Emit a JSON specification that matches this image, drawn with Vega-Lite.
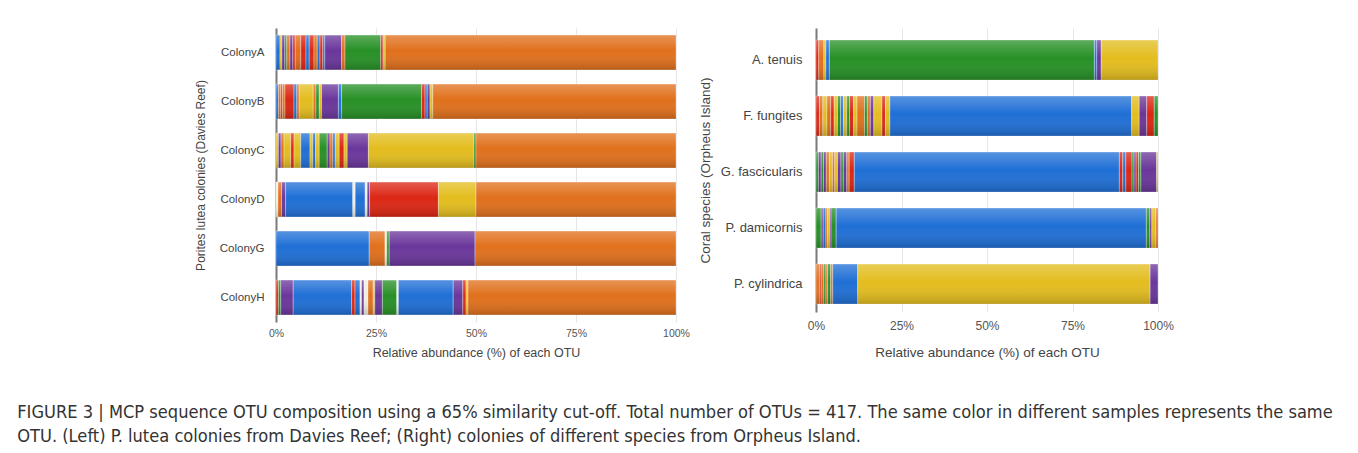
{
  "$schema": "https://vega.github.io/schema/vega-lite/v6.json",
  "background": "white",
  "padding": {"left": 17, "top": 28, "right": 0, "bottom": 0},
  "title": {
    "text": ["FIGURE 3 | MCP sequence OTU composition using a 65% similarity cut-off. Total number of OTUs = 417. The same color in different samples represents the same", "OTU. (Left) P. lutea colonies from Davies Reef; (Right) colonies of different species from Orpheus Island."],
    "orient": "bottom", "anchor": "start", "frame": "bounds", "dx": -177, "offset": 45,
    "font": "DejaVu Sans Condensed, sans-serif", "fontSize": 18.1, "fontWeight": "normal", "color": "#333", "lineHeight": 24
  },
  "datasets": {
    "left": [
      {"sample":"ColonyA","otu":"B","pct":1.0,"seq":1},{"sample":"ColonyA","otu":"E","pct":0.5,"seq":2},{"sample":"ColonyA","otu":"F","pct":0.7,"seq":3},{"sample":"ColonyA","otu":"C","pct":0.5,"seq":4},{"sample":"ColonyA","otu":"A","pct":0.8,"seq":5},{"sample":"ColonyA","otu":"F","pct":0.7,"seq":6},{"sample":"ColonyA","otu":"D","pct":0.6,"seq":7},{"sample":"ColonyA","otu":"A","pct":1.4,"seq":8},{"sample":"ColonyA","otu":"D","pct":1.3,"seq":9},{"sample":"ColonyA","otu":"B","pct":0.8,"seq":10},{"sample":"ColonyA","otu":"D","pct":1.2,"seq":11},{"sample":"ColonyA","otu":"A","pct":0.8,"seq":12},{"sample":"ColonyA","otu":"B","pct":0.7,"seq":13},{"sample":"ColonyA","otu":"D","pct":0.7,"seq":14},{"sample":"ColonyA","otu":"B","pct":0.5,"seq":15},{"sample":"ColonyA","otu":"F","pct":4.2,"seq":16},{"sample":"ColonyA","otu":"A","pct":0.85,"seq":17},{"sample":"ColonyA","otu":"C","pct":8.95,"seq":18},{"sample":"ColonyA","otu":"D","pct":0.55,"seq":19},{"sample":"ColonyA","otu":"E","pct":0.55,"seq":20},{"sample":"ColonyA","otu":"A","pct":72.7,"seq":21},
      {"sample":"ColonyB","otu":"B","pct":0.6,"seq":1},{"sample":"ColonyB","otu":"A","pct":0.6,"seq":2},{"sample":"ColonyB","otu":"D","pct":0.4,"seq":3},{"sample":"ColonyB","otu":"A","pct":0.65,"seq":4},{"sample":"ColonyB","otu":"D","pct":2.25,"seq":5},{"sample":"ColonyB","otu":"B","pct":0.7,"seq":6},{"sample":"ColonyB","otu":"A","pct":0.6,"seq":7},{"sample":"ColonyB","otu":"E","pct":3.5,"seq":8},{"sample":"ColonyB","otu":"A","pct":0.7,"seq":9},{"sample":"ColonyB","otu":"C","pct":0.8,"seq":10},{"sample":"ColonyB","otu":"E","pct":0.6,"seq":11},{"sample":"ColonyB","otu":"F","pct":4.2,"seq":12},{"sample":"ColonyB","otu":"B","pct":0.8,"seq":13},{"sample":"ColonyB","otu":"C","pct":20.0,"seq":14},{"sample":"ColonyB","otu":"D","pct":0.85,"seq":15},{"sample":"ColonyB","otu":"B","pct":0.55,"seq":16},{"sample":"ColonyB","otu":"F","pct":0.7,"seq":17},{"sample":"ColonyB","otu":"E","pct":0.7,"seq":18},{"sample":"ColonyB","otu":"A","pct":60.8,"seq":19},
      {"sample":"ColonyC","otu":"E","pct":0.6,"seq":1},{"sample":"ColonyC","otu":"F","pct":0.65,"seq":2},{"sample":"ColonyC","otu":"A","pct":0.75,"seq":3},{"sample":"ColonyC","otu":"E","pct":1.7,"seq":4},{"sample":"ColonyC","otu":"D","pct":0.8,"seq":5},{"sample":"ColonyC","otu":"E","pct":1.7,"seq":6},{"sample":"ColonyC","otu":"B","pct":2.3,"seq":7},{"sample":"ColonyC","otu":"E","pct":0.7,"seq":8},{"sample":"ColonyC","otu":"B","pct":0.7,"seq":9},{"sample":"ColonyC","otu":"E","pct":0.9,"seq":10},{"sample":"ColonyC","otu":"C","pct":2.0,"seq":11},{"sample":"ColonyC","otu":"F","pct":0.7,"seq":12},{"sample":"ColonyC","otu":"A","pct":0.7,"seq":13},{"sample":"ColonyC","otu":"B","pct":0.6,"seq":14},{"sample":"ColonyC","otu":"E","pct":1.0,"seq":15},{"sample":"ColonyC","otu":"D","pct":1.2,"seq":16},{"sample":"ColonyC","otu":"E","pct":0.8,"seq":17},{"sample":"ColonyC","otu":"F","pct":5.3,"seq":18},{"sample":"ColonyC","otu":"E","pct":26.4,"seq":19},{"sample":"ColonyC","otu":"C","pct":0.5,"seq":20},{"sample":"ColonyC","otu":"A","pct":50.0,"seq":21},
      {"sample":"ColonyD","otu":"G","pct":0.5,"seq":1},{"sample":"ColonyD","otu":"A","pct":0.9,"seq":2},{"sample":"ColonyD","otu":"F","pct":1.0,"seq":3},{"sample":"ColonyD","otu":"B","pct":16.8,"seq":4},{"sample":"ColonyD","otu":"G","pct":0.6,"seq":5},{"sample":"ColonyD","otu":"B","pct":2.5,"seq":6},{"sample":"ColonyD","otu":"G","pct":0.5,"seq":7},{"sample":"ColonyD","otu":"F","pct":0.6,"seq":8},{"sample":"ColonyD","otu":"D","pct":17.2,"seq":9},{"sample":"ColonyD","otu":"E","pct":9.4,"seq":10},{"sample":"ColonyD","otu":"A","pct":50.0,"seq":11},
      {"sample":"ColonyG","otu":"B","pct":23.3,"seq":1},{"sample":"ColonyG","otu":"A","pct":3.95,"seq":2},{"sample":"ColonyG","otu":"G","pct":0.45,"seq":3},{"sample":"ColonyG","otu":"C","pct":0.6,"seq":4},{"sample":"ColonyG","otu":"F","pct":21.45,"seq":5},{"sample":"ColonyG","otu":"A","pct":50.25,"seq":6},
      {"sample":"ColonyH","otu":"D","pct":0.6,"seq":1},{"sample":"ColonyH","otu":"C","pct":0.6,"seq":2},{"sample":"ColonyH","otu":"F","pct":3.1,"seq":3},{"sample":"ColonyH","otu":"B","pct":14.6,"seq":4},{"sample":"ColonyH","otu":"D","pct":0.85,"seq":5},{"sample":"ColonyH","otu":"B","pct":1.25,"seq":6},{"sample":"ColonyH","otu":"G","pct":0.4,"seq":7},{"sample":"ColonyH","otu":"F","pct":0.6,"seq":8},{"sample":"ColonyH","otu":"G","pct":1.0,"seq":9},{"sample":"ColonyH","otu":"A","pct":1.3,"seq":10},{"sample":"ColonyH","otu":"E","pct":0.4,"seq":11},{"sample":"ColonyH","otu":"F","pct":1.9,"seq":12},{"sample":"ColonyH","otu":"C","pct":3.6,"seq":13},{"sample":"ColonyH","otu":"G","pct":0.4,"seq":14},{"sample":"ColonyH","otu":"B","pct":13.7,"seq":15},{"sample":"ColonyH","otu":"F","pct":2.4,"seq":16},{"sample":"ColonyH","otu":"D","pct":0.8,"seq":17},{"sample":"ColonyH","otu":"E","pct":0.5,"seq":18},{"sample":"ColonyH","otu":"A","pct":52.0,"seq":19}
    ],
    "right": [
      {"sample":"A. tenuis","otu":"D","pct":0.8,"seq":1},{"sample":"A. tenuis","otu":"A","pct":1.5,"seq":2},{"sample":"A. tenuis","otu":"E","pct":0.6,"seq":3},{"sample":"A. tenuis","otu":"B","pct":1.0,"seq":4},{"sample":"A. tenuis","otu":"C","pct":77.5,"seq":5},{"sample":"A. tenuis","otu":"B","pct":0.7,"seq":6},{"sample":"A. tenuis","otu":"F","pct":1.3,"seq":7},{"sample":"A. tenuis","otu":"E","pct":16.6,"seq":8},
      {"sample":"F. fungites","otu":"D","pct":1.0,"seq":1},{"sample":"F. fungites","otu":"A","pct":1.0,"seq":2},{"sample":"F. fungites","otu":"E","pct":1.2,"seq":3},{"sample":"F. fungites","otu":"A","pct":1.1,"seq":4},{"sample":"F. fungites","otu":"D","pct":1.0,"seq":5},{"sample":"F. fungites","otu":"E","pct":1.0,"seq":6},{"sample":"F. fungites","otu":"C","pct":0.9,"seq":7},{"sample":"F. fungites","otu":"B","pct":0.8,"seq":8},{"sample":"F. fungites","otu":"E","pct":1.0,"seq":9},{"sample":"F. fungites","otu":"C","pct":0.8,"seq":10},{"sample":"F. fungites","otu":"D","pct":1.2,"seq":11},{"sample":"F. fungites","otu":"E","pct":1.0,"seq":12},{"sample":"F. fungites","otu":"A","pct":2.2,"seq":13},{"sample":"F. fungites","otu":"C","pct":0.8,"seq":14},{"sample":"F. fungites","otu":"A","pct":0.9,"seq":15},{"sample":"F. fungites","otu":"F","pct":1.0,"seq":16},{"sample":"F. fungites","otu":"E","pct":2.4,"seq":17},{"sample":"F. fungites","otu":"D","pct":1.0,"seq":18},{"sample":"F. fungites","otu":"E","pct":1.3,"seq":19},{"sample":"F. fungites","otu":"B","pct":70.7,"seq":20},{"sample":"F. fungites","otu":"E","pct":2.2,"seq":21},{"sample":"F. fungites","otu":"F","pct":2.2,"seq":22},{"sample":"F. fungites","otu":"D","pct":2.2,"seq":23},{"sample":"F. fungites","otu":"C","pct":1.1,"seq":24},
      {"sample":"G. fascicularis","otu":"C","pct":0.7,"seq":1},{"sample":"G. fascicularis","otu":"F","pct":0.8,"seq":2},{"sample":"G. fascicularis","otu":"C","pct":0.7,"seq":3},{"sample":"G. fascicularis","otu":"F","pct":0.8,"seq":4},{"sample":"G. fascicularis","otu":"A","pct":0.9,"seq":5},{"sample":"G. fascicularis","otu":"E","pct":0.9,"seq":6},{"sample":"G. fascicularis","otu":"A","pct":0.7,"seq":7},{"sample":"G. fascicularis","otu":"E","pct":0.8,"seq":8},{"sample":"G. fascicularis","otu":"F","pct":1.0,"seq":9},{"sample":"G. fascicularis","otu":"C","pct":0.7,"seq":10},{"sample":"G. fascicularis","otu":"F","pct":1.0,"seq":11},{"sample":"G. fascicularis","otu":"A","pct":0.7,"seq":12},{"sample":"G. fascicularis","otu":"D","pct":1.5,"seq":13},{"sample":"G. fascicularis","otu":"B","pct":77.5,"seq":14},{"sample":"G. fascicularis","otu":"D","pct":1.0,"seq":15},{"sample":"G. fascicularis","otu":"B","pct":0.9,"seq":16},{"sample":"G. fascicularis","otu":"D","pct":1.8,"seq":17},{"sample":"G. fascicularis","otu":"C","pct":0.6,"seq":18},{"sample":"G. fascicularis","otu":"F","pct":0.6,"seq":19},{"sample":"G. fascicularis","otu":"D","pct":0.7,"seq":20},{"sample":"G. fascicularis","otu":"C","pct":0.7,"seq":21},{"sample":"G. fascicularis","otu":"F","pct":4.6,"seq":22},{"sample":"G. fascicularis","otu":"E","pct":0.4,"seq":23},
      {"sample":"P. damicornis","otu":"C","pct":1.5,"seq":1},{"sample":"P. damicornis","otu":"F","pct":0.6,"seq":2},{"sample":"P. damicornis","otu":"B","pct":0.8,"seq":3},{"sample":"P. damicornis","otu":"A","pct":0.5,"seq":4},{"sample":"P. damicornis","otu":"E","pct":0.6,"seq":5},{"sample":"P. damicornis","otu":"F","pct":0.4,"seq":6},{"sample":"P. damicornis","otu":"C","pct":1.5,"seq":7},{"sample":"P. damicornis","otu":"B","pct":90.7,"seq":8},{"sample":"P. damicornis","otu":"C","pct":1.0,"seq":9},{"sample":"P. damicornis","otu":"F","pct":0.6,"seq":10},{"sample":"P. damicornis","otu":"E","pct":1.2,"seq":11},{"sample":"P. damicornis","otu":"A","pct":0.6,"seq":12},
      {"sample":"P. cylindrica","otu":"A","pct":1.0,"seq":1},{"sample":"P. cylindrica","otu":"D","pct":0.5,"seq":2},{"sample":"P. cylindrica","otu":"A","pct":0.8,"seq":3},{"sample":"P. cylindrica","otu":"C","pct":0.6,"seq":4},{"sample":"P. cylindrica","otu":"A","pct":0.5,"seq":5},{"sample":"P. cylindrica","otu":"C","pct":0.9,"seq":6},{"sample":"P. cylindrica","otu":"A","pct":0.6,"seq":7},{"sample":"P. cylindrica","otu":"B","pct":7.3,"seq":8},{"sample":"P. cylindrica","otu":"E","pct":85.5,"seq":9},{"sample":"P. cylindrica","otu":"F","pct":2.3,"seq":10}
    ]
  },
  "spacing": 8,
  "hconcat": [
    {
      "width": 400,
      "height": 294,
      "data": {"name": "left"},
      "layer": [
        {
          "mark": {"type": "bar", "stroke": "white", "strokeWidth": 0.6, "strokeOpacity": 0.55},
          "encoding": {
            "y": {"field": "sample", "type": "nominal", "sort": ["ColonyA","ColonyB","ColonyC","ColonyD","ColonyG","ColonyH"],
              "scale": {"paddingInner": 0.29, "paddingOuter": 0.145},
              "title": "Porites lutea colonies (Davies Reef)",
              "axis": {"domain": true, "domainColor": "#7a7a7a", "domainWidth": 2, "ticks": false, "labelFontSize": 11.5, "labelColor": "#444", "labelPadding": 12, "titleFontSize": 12, "titleColor": "#444", "titlePadding": 12}},
            "x": {"field": "pct", "type": "quantitative", "stack": "zero",
              "scale": {"domain": [0, 100], "nice": false},
              "title": "Relative abundance (%) of each OTU",
              "axis": {"values": [0, 25, 50, 75, 100], "labelExpr": "datum.value + '%'", "labelFlush": false, "domain": false, "ticks": false, "grid": true, "gridColor": "#e6e6e6", "labelFontSize": 10.5, "labelColor": "#555", "labelPadding": 6, "titleFontSize": 12.5, "titleColor": "#444", "titlePadding": 8}},
            "color": {"field": "otu", "type": "nominal", "legend": null,
              "scale": {"domain": ["A","B","C","D","E","F","G"], "range": ["#e0701c","#1f6fd6","#279026","#dc2614","#e3bd1e","#6a369b","#f1ece0"]}},
            "order": {"field": "seq", "type": "quantitative"}
          }
        },
        {
          "mark": {"type": "bar", "fill": {"gradient": "linear", "x1": 0, "y1": 0, "x2": 0, "y2": 1, "stops": [{"offset": 0, "color": "rgba(255,255,255,0.25)"}, {"offset": 0.45, "color": "rgba(255,255,255,0)"}, {"offset": 1, "color": "rgba(0,0,0,0.18)"}]}},
          "encoding": {
            "y": {"field": "sample", "type": "nominal", "sort": ["ColonyA","ColonyB","ColonyC","ColonyD","ColonyG","ColonyH"], "title": "Porites lutea colonies (Davies Reef)"},
            "x": {"aggregate": "sum", "field": "pct", "type": "quantitative", "title": "Relative abundance (%) of each OTU"}
          }
        }
      ]
    },
    {
      "width": 342,
      "height": 284,
      "data": {"name": "right"},
      "layer": [
        {
          "mark": {"type": "bar", "stroke": "white", "strokeWidth": 0.6, "strokeOpacity": 0.55},
          "encoding": {
            "y": {"field": "sample", "type": "nominal", "sort": ["A. tenuis","F. fungites","G. fascicularis","P. damicornis","P. cylindrica"],
              "scale": {"paddingInner": 0.286, "paddingOuter": 0.1786, "align": 0.6},
              "title": "Coral species (Orpheus Island)",
              "axis": {"domain": true, "domainColor": "#7a7a7a", "domainWidth": 2, "ticks": false, "labelFontSize": 13, "labelColor": "#444", "labelPadding": 14, "titleFontSize": 13.5, "titleColor": "#444", "titlePadding": 8}},
            "x": {"field": "pct", "type": "quantitative", "stack": "zero",
              "scale": {"domain": [0, 100], "nice": false},
              "title": "Relative abundance (%) of each OTU",
              "axis": {"values": [0, 25, 50, 75, 100], "labelExpr": "datum.value + '%'", "labelFlush": false, "domain": false, "ticks": false, "grid": true, "gridColor": "#e6e6e6", "labelFontSize": 12, "labelColor": "#555", "labelPadding": 8, "titleFontSize": 13.5, "titleColor": "#444", "titlePadding": 14}},
            "color": {"field": "otu", "type": "nominal", "legend": null,
              "scale": {"domain": ["A","B","C","D","E","F","G"], "range": ["#e0701c","#1f6fd6","#279026","#dc2614","#e3bd1e","#6a369b","#f1ece0"]}},
            "order": {"field": "seq", "type": "quantitative"}
          }
        },
        {
          "mark": {"type": "bar", "fill": {"gradient": "linear", "x1": 0, "y1": 0, "x2": 0, "y2": 1, "stops": [{"offset": 0, "color": "rgba(255,255,255,0.25)"}, {"offset": 0.45, "color": "rgba(255,255,255,0)"}, {"offset": 1, "color": "rgba(0,0,0,0.18)"}]}},
          "encoding": {
            "y": {"field": "sample", "type": "nominal", "sort": ["A. tenuis","F. fungites","G. fascicularis","P. damicornis","P. cylindrica"], "title": "Coral species (Orpheus Island)"},
            "x": {"aggregate": "sum", "field": "pct", "type": "quantitative", "title": "Relative abundance (%) of each OTU"}
          }
        }
      ]
    }
  ],
  "config": {
    "view": {"stroke": null},
    "font": "Liberation Sans, Arial, Helvetica, sans-serif",
    "axis": {"labelFont": "Liberation Sans, Arial, sans-serif", "titleFont": "Liberation Sans, Arial, sans-serif", "titleFontWeight": "normal"}
  }
}
